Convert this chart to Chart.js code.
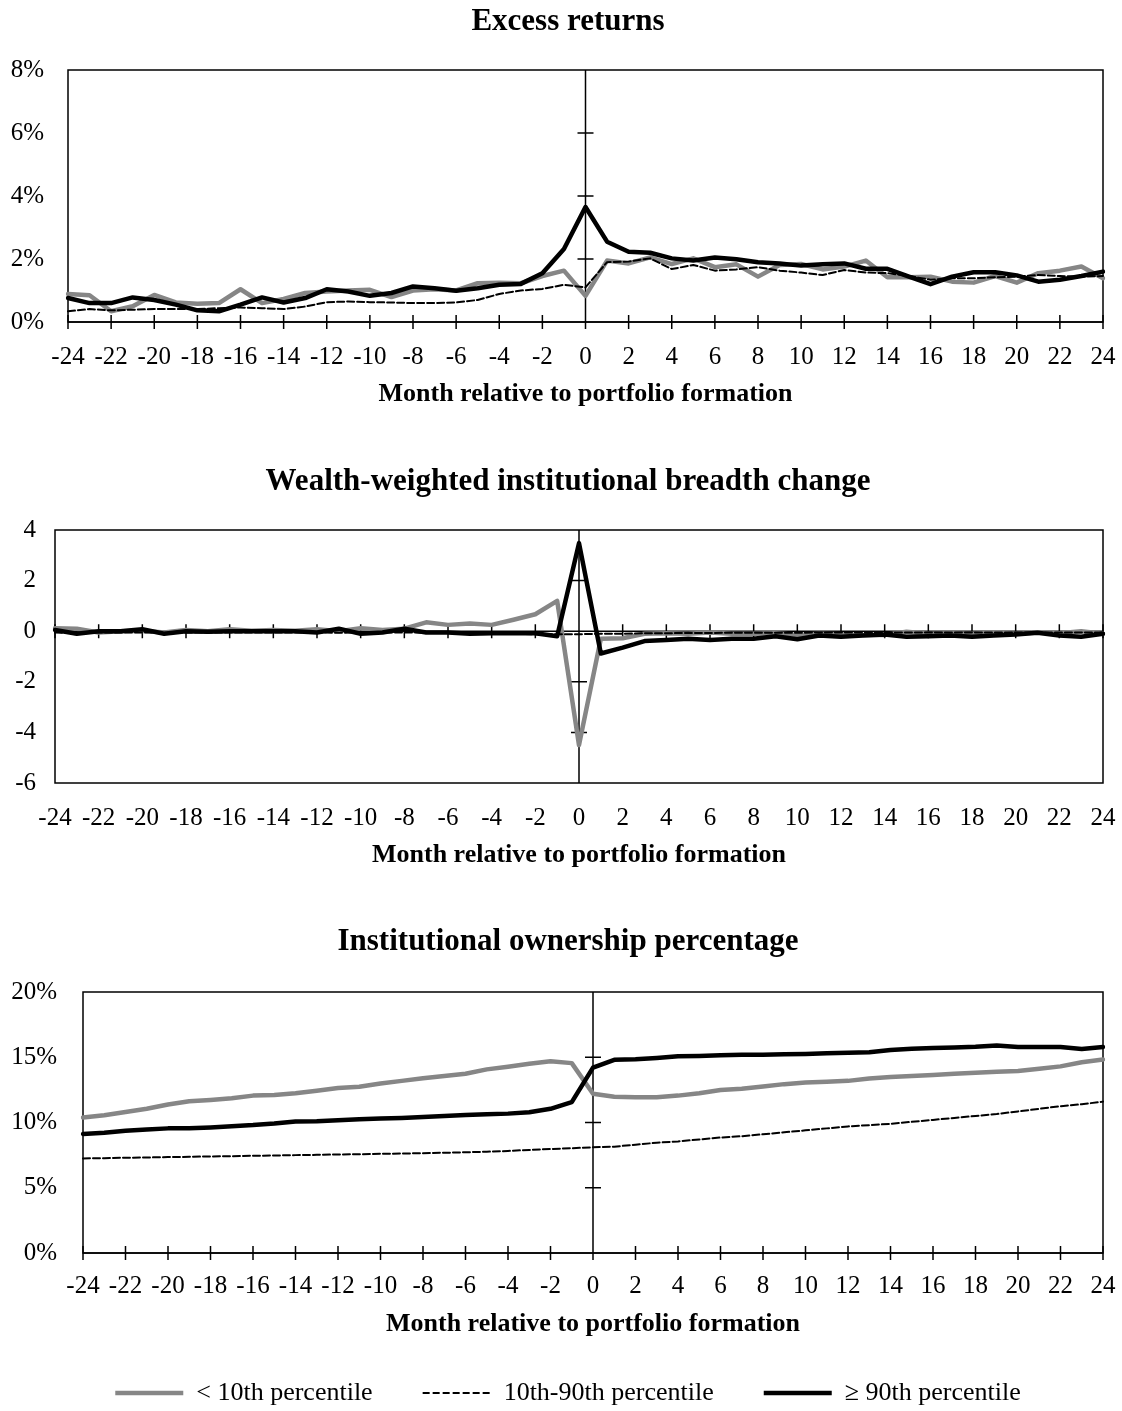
<!DOCTYPE html>
<html>
<head>
<meta charset="utf-8">
<script src="https://cdn.jsdelivr.net/npm/chart.js@4.4.1/dist/chart.umd.min.js"></script>
<style>
  body { margin: 0; background: #fff; overflow: hidden; }
  .panel { position: absolute; left: 0; }
</style>
</head>
<body>
<div class="panel" style="top:0px"><canvas id="chartReturns" width="1136" height="410"></canvas></div>
<div class="panel" style="top:460px"><canvas id="chartBreadth" width="1136" height="411"></canvas></div>
<div class="panel" style="top:920px"><canvas id="chartOwnership" width="1136" height="496"></canvas></div>
<script>
'use strict'

var months = [-24, -23, -22, -21, -20, -19, -18, -17, -16, -15, -14, -13, -12, -11, -10, -9, -8, -7, -6, -5, -4, -3, -2, -1,
    0, 1, 2, 3, 4, 5, 6, 7, 8, 9, 10, 11, 12, 13, 14, 15, 16, 17, 18, 19, 20, 21, 22, 23, 24];

var seriesNames = ['< 10th percentile', '10th-90th percentile', '\u2265 90th percentile'];

// excess returns, %
var retLow = [0.89, 0.85, 0.34, 0.5, 0.86, 0.62, 0.58, 0.6, 1.04, 0.6, 0.73, 0.92, 0.97, 1.0, 1.02, 0.79, 1.0, 1.04, 1.0, 1.23, 1.25, 1.23, 1.46, 1.63,
    0.83, 1.95, 1.86, 2.05, 1.84, 2.02, 1.74, 1.83, 1.44, 1.81, 1.84, 1.67, 1.76, 1.95, 1.42, 1.42, 1.44, 1.28, 1.25, 1.46, 1.25, 1.55, 1.63, 1.76, 1.39];
var retMid = [0.34, 0.41, 0.37, 0.39, 0.41, 0.41, 0.41, 0.44, 0.46, 0.44, 0.41, 0.49, 0.63, 0.65, 0.63, 0.62, 0.6, 0.6, 0.62, 0.7, 0.89, 1.0, 1.05, 1.18,
    1.1, 1.9, 1.92, 2.02, 1.68, 1.81, 1.63, 1.67, 1.74, 1.63, 1.57, 1.49, 1.65, 1.57, 1.55, 1.46, 1.34, 1.39, 1.39, 1.42, 1.44, 1.49, 1.46, 1.44, 1.46];
var retHigh = [0.76, 0.6, 0.6, 0.78, 0.7, 0.55, 0.37, 0.34, 0.55, 0.78, 0.62, 0.76, 1.04, 0.97, 0.83, 0.92, 1.13, 1.07, 0.99, 1.07, 1.18, 1.21, 1.55, 2.32,
    3.65, 2.55, 2.23, 2.2, 2.02, 1.95, 2.05, 1.99, 1.9, 1.86, 1.79, 1.83, 1.86, 1.69, 1.69, 1.44, 1.2, 1.44, 1.58, 1.58, 1.48, 1.28, 1.34, 1.46, 1.6];

// wealth-weighted breadth change
var brLow = [0.12, 0.1, -0.05, 0.0, 0.02, -0.05, 0.05, 0.0, 0.08, 0.02, 0.05, 0.02, 0.08, 0.0, 0.12, 0.05, 0.1, 0.35, 0.25, 0.3, 0.25, 0.45, 0.67, 1.2,
    -4.5, -0.3, -0.28, -0.1, -0.08, -0.1, -0.05, -0.1, -0.1, -0.08, -0.15, -0.1, -0.12, -0.15, -0.15, -0.02, -0.1, -0.08, -0.1, -0.05, -0.1, -0.05, -0.08, 0.0, -0.1];
var brMid = [-0.05, -0.08, -0.05, -0.05, -0.05, -0.06, -0.05, -0.05, -0.05, -0.05, -0.05, -0.05, -0.05, -0.06, -0.05, -0.05, -0.05, -0.06, -0.06, -0.07, -0.08, -0.1, -0.12, -0.12,
    -0.12, -0.1, -0.1, -0.08, -0.08, -0.07, -0.07, -0.06, -0.06, -0.06, -0.06, -0.05, -0.05, -0.05, -0.05, -0.05, -0.05, -0.05, -0.05, -0.05, -0.05, -0.05, -0.05, -0.05, -0.05];
var brHigh = [0.05, -0.1, 0.0, 0.0, 0.08, -0.1, 0.0, -0.02, 0.0, 0.0, 0.0, 0.0, -0.05, 0.1, -0.1, -0.05, 0.1, -0.05, -0.05, -0.1, -0.08, -0.08, -0.08, -0.2,
    3.48, -0.88, -0.65, -0.39, -0.35, -0.3, -0.35, -0.3, -0.3, -0.2, -0.32, -0.17, -0.22, -0.17, -0.13, -0.22, -0.2, -0.17, -0.22, -0.17, -0.13, -0.06, -0.17, -0.22, -0.1];

// institutional ownership, %
var ownLow = [10.38, 10.55, 10.8, 11.05, 11.38, 11.63, 11.73, 11.86, 12.06, 12.11, 12.24, 12.44, 12.64, 12.74, 12.99, 13.19, 13.39, 13.57, 13.74, 14.07, 14.27, 14.5, 14.7, 14.55,
    12.2, 11.98, 11.93, 11.93, 12.06, 12.24, 12.49, 12.59, 12.76, 12.94, 13.07, 13.12, 13.19, 13.37, 13.49, 13.57, 13.64, 13.74, 13.82, 13.89, 13.94, 14.12, 14.3, 14.62, 14.82];
var ownMid = [7.25, 7.27, 7.3, 7.32, 7.35, 7.37, 7.4, 7.42, 7.45, 7.47, 7.5, 7.52, 7.55, 7.57, 7.6, 7.62, 7.65, 7.68, 7.72, 7.76, 7.82, 7.9, 7.97, 8.03,
    8.1, 8.15, 8.3, 8.45, 8.55, 8.7, 8.85, 8.95, 9.1, 9.25, 9.4, 9.55, 9.7, 9.8, 9.9, 10.05, 10.2, 10.35, 10.5, 10.65, 10.85, 11.05, 11.25, 11.4, 11.6];
var ownHigh = [9.12, 9.22, 9.37, 9.47, 9.55, 9.55, 9.62, 9.72, 9.8, 9.92, 10.08, 10.1, 10.18, 10.25, 10.3, 10.35, 10.43, 10.5, 10.58, 10.63, 10.68, 10.78, 11.05, 11.56,
    14.2, 14.8, 14.85, 14.95, 15.08, 15.1, 15.15, 15.2, 15.2, 15.23, 15.25, 15.3, 15.35, 15.38, 15.55, 15.65, 15.7, 15.75, 15.8, 15.9, 15.78, 15.78, 15.78, 15.63, 15.78];

var FONT = "'Liberation Serif', 'Times New Roman', serif";
Chart.defaults.font.family = FONT;
Chart.defaults.color = '#000';

// Excel-like box, crossing axes at 0 and tick marks on them
var crossAxes = {
    id: 'crossAxes',
    beforeDatasetsDraw: function (chart) {
        var ctx = chart.ctx;
        var a = chart.chartArea;
        var xs = chart.scales.x;
        var ys = chart.scales.y;
        var x0 = xs.getPixelForValue(months.indexOf(0));
        var y0 = ys.getPixelForValue(0);
        ctx.save();
        ctx.strokeStyle = '#000';
        ctx.lineWidth = 1.5;
        ctx.strokeRect(a.left, a.top, a.right - a.left, a.bottom - a.top);
        ctx.beginPath();
        ctx.moveTo(a.left, y0);
        ctx.lineTo(a.right, y0);
        ctx.moveTo(x0, a.top);
        ctx.lineTo(x0, a.bottom);
        months.forEach(function (m, i) {
            if (m % 2 === 0) {
                var px = xs.getPixelForValue(i);
                ctx.moveTo(px, y0 - 7);
                ctx.lineTo(px, y0 + 7);
            }
        });
        ys.ticks.forEach(function (t) {
            if (t.value === ys.min || t.value === ys.max) return;
            var py = ys.getPixelForValue(t.value);
            ctx.moveTo(x0 - 8, py);
            ctx.lineTo(x0 + 8, py);
        });
        ctx.stroke();
        ctx.restore();
    }
};

function legendLabels(chart) {
    var items = Chart.defaults.plugins.legend.labels.generateLabels(chart);
    items.forEach(function (item) {
        var ds = chart.data.datasets[item.datasetIndex];
        item.lineDash = ds.borderDash || [];
        item.lineWidth = ds.borderWidth;
        item.strokeStyle = ds.borderColor;
    });
    return items;
}

function makePanel(id, title, low, mid, high, yMin, yMax, yStep, unit, yWidth, yPad, titleGap, xTickPad, xHeight, xTitlePad, showLegend) {
    var ctx = document.getElementById(id).getContext('2d');
    return new Chart(ctx, {
        type: 'line',
        data: {
            labels: months,
            datasets: [{
                label: seriesNames[0],
                data: low,
                borderColor: '#868686',
                borderWidth: 4.5,
                order: 2,
            },
            {
                label: seriesNames[1],
                data: mid,
                borderColor: '#000000',
                borderWidth: 2,
                borderDash: [7, 3],
                order: 1,
            },
            {
                label: seriesNames[2],
                data: high,
                borderColor: '#000000',
                borderWidth: 4.5,
                order: 0,
            }]
        },
        options: {
            responsive: false,
            animation: false,
            devicePixelRatio: 1,
            layout: { padding: 0 },
            elements: {
                point: { radius: 0 },
                line: { tension: 0, borderJoinStyle: 'round', borderCapStyle: 'round', fill: false }
            },
            plugins: {
                title: {
                    display: true,
                    text: title,
                    font: { size: 31, weight: 'bold', family: FONT },
                    color: '#000',
                    padding: { top: 3, bottom: titleGap }
                },
                legend: {
                    display: showLegend,
                    position: 'bottom',
                    labels: {
                        usePointStyle: true,
                        pointStyle: 'line',
                        pointStyleWidth: 68,
                        padding: 50,
                        color: '#000',
                        font: { size: 26, family: FONT },
                        generateLabels: legendLabels,
                        sort: function (a, b) { return a.datasetIndex - b.datasetIndex; }
                    }
                },
                tooltip: { enabled: false }
            },
            scales: {
                x: {
                    type: 'category',
                    grid: { display: false },
                    border: { display: false },
                    ticks: {
                        autoSkip: false,
                        maxRotation: 0,
                        padding: xTickPad,
                        font: { size: 25, family: FONT },
                        callback: function (v, i) {
                            return months[i] % 2 === 0 ? String(months[i]) : null;
                        }
                    },
                    title: {
                        display: true,
                        text: 'Month relative to portfolio formation',
                        font: { size: 26, weight: 'bold', family: FONT },
                        padding: { top: 0, bottom: xTitlePad }
                    },
                    afterFit: function (scale) { scale.height = xHeight; }
                },
                y: {
                    position: 'left',
                    min: yMin,
                    max: yMax,
                    grid: { display: false, drawTicks: false },
                    border: { display: false },
                    ticks: {
                        stepSize: yStep,
                        padding: yPad,
                        font: { size: 25, family: FONT },
                        callback: function (v) { return v + unit; }
                    },
                    afterFit: function (scale) { scale.width = yWidth; }
                },
                yRight: {
                    position: 'right',
                    grid: { display: false },
                    border: { display: false },
                    ticks: { display: false },
                    afterFit: function (scale) { scale.width = 33; }
                }
            }
        },
        plugins: [crossAxes]
    });
}

makePanel('chartReturns', 'Excess returns', retLow, retMid, retHigh, 0, 8, 2, '%', 68, 24, 29.8, 12, 88, 0.4, false);
makePanel('chartBreadth', 'Wealth-weighted institutional breadth change', brLow, brMid, brHigh, -6, 4, 2, '', 55, 19, 29.8, 12, 88, 0.4, false);
makePanel('chartOwnership', 'Institutional ownership percentage', ownLow, ownMid, ownHigh, 0, 20, 5, '%', 83, 26, 31.8, 10, 77, -9.6, true);
</script>
</body>
</html>
